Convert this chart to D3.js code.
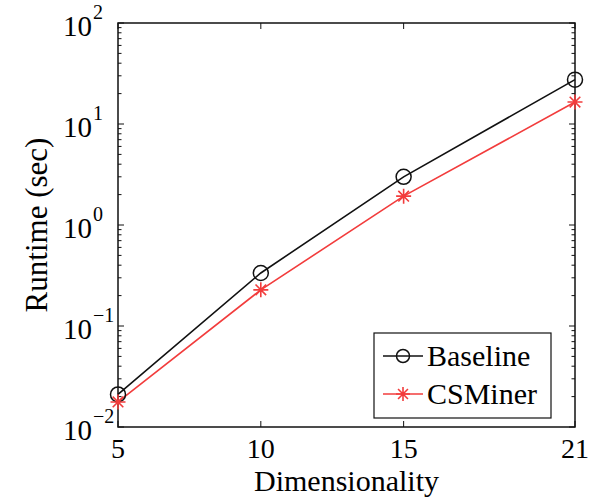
<!DOCTYPE html>
<html>
<head>
<meta charset="utf-8">
<script src="https://cdn.jsdelivr.net/npm/d3@7"></script>
<style>
  html, body { margin: 0; padding: 0; background: #fff; }
  svg { display: block; }
  text { font-family: "Liberation Serif", "Times New Roman", serif; fill: #000; }
</style>
</head>
<body>
<svg id="chart" width="603" height="497"></svg>
<script>
// Runtime vs. dimensionality for the two methods
const dims = [5, 10, 15, 21];
const baselineRuntime = [0.021, 0.335, 3.0, 27.5];
const csminerRuntime = [0.0177, 0.228, 1.93, 16.5];
const xTickValues = [5, 10, 15, 21];
const yTickExponents = [-2, -1, 0, 1, 2];
const seriesNames = ["Baseline", "CSMiner"];

const svg = d3.select("#chart");
const plot = { left: 118, right: 575, top: 23, bottom: 427 };

const x = d3.scaleLinear().domain([5, 21]).range([plot.left, plot.right]);
const y = d3.scaleLog().domain([0.01, 100]).range([plot.bottom, plot.top]);

const black = "#111";
const red = "#f23c3c";

// Ticks (inside the frame, on all four sides)
const ticks = svg.append("g").attr("stroke", black).attr("stroke-width", 1);
const majorLen = 6, minorLen = 3.5;
yTickExponents.forEach(e => {
  const v = Math.pow(10, e);
  const yy = y(v);
  ticks.append("line").attr("x1", plot.left).attr("x2", plot.left + majorLen).attr("y1", yy).attr("y2", yy);
  ticks.append("line").attr("x1", plot.right).attr("x2", plot.right - majorLen).attr("y1", yy).attr("y2", yy);
  if (e < 2) {
    for (let m = 2; m <= 9; m++) {
      const ym = y(m * v);
      ticks.append("line").attr("x1", plot.left).attr("x2", plot.left + minorLen).attr("y1", ym).attr("y2", ym);
      ticks.append("line").attr("x1", plot.right).attr("x2", plot.right - minorLen).attr("y1", ym).attr("y2", ym);
    }
  }
});
xTickValues.forEach(t => {
  const xx = x(t);
  ticks.append("line").attr("x1", xx).attr("x2", xx).attr("y1", plot.bottom).attr("y2", plot.bottom - majorLen);
  ticks.append("line").attr("x1", xx).attr("x2", xx).attr("y1", plot.top).attr("y2", plot.top + majorLen);
});

// Frame
svg.append("rect")
  .attr("x", plot.left).attr("y", plot.top)
  .attr("width", plot.right - plot.left).attr("height", plot.bottom - plot.top)
  .attr("fill", "none").attr("stroke", black).attr("stroke-width", 1.5);

// Tick labels
const tickFont = 29;
svg.append("g").selectAll("text").data(xTickValues).join("text")
  .attr("x", d => x(d)).attr("y", plot.bottom + 31)
  .attr("text-anchor", "middle").attr("font-size", 28)
  .text(d => d);

const yLab = svg.append("g");
yTickExponents.forEach(e => {
  const yy = y(Math.pow(10, e));
  yLab.append("text").attr("x", 92).attr("y", yy + 13)
    .attr("text-anchor", "end").attr("font-size", tickFont).text("10");
  yLab.append("text").attr("x", 93).attr("y", yy - 4)
    .attr("text-anchor", "start").attr("font-size", 20)
    .text(e < 0 ? "\u2212" + Math.abs(e) : String(e));
});

// Axis titles
svg.append("text")
  .attr("x", (plot.left + plot.right) / 2).attr("y", 491)
  .attr("text-anchor", "middle").attr("font-size", 30)
  .text("Dimensionality");
svg.append("text")
  .attr("transform", `translate(47,${(plot.top + plot.bottom) / 2}) rotate(-90)`)
  .attr("text-anchor", "middle").attr("font-size", 31)
  .text("Runtime (sec)");

// Series
const line = d3.line().x(d => x(d[0])).y(d => y(d[1]));
const baseData = dims.map((d, i) => [d, baselineRuntime[i]]);
const csData = dims.map((d, i) => [d, csminerRuntime[i]]);

function starPath(r) {
  const a = r * Math.SQRT1_2;
  return `M${-r},0L${r},0M0,${-r}L0,${r}M${-a},${-a}L${a},${a}M${-a},${a}L${a},${-a}`;
}

svg.append("path").datum(baseData).attr("d", line)
  .attr("fill", "none").attr("stroke", black).attr("stroke-width", 1.6);
svg.append("path").datum(csData).attr("d", line)
  .attr("fill", "none").attr("stroke", red).attr("stroke-width", 1.6);

svg.append("g").selectAll("circle").data(baseData).join("circle")
  .attr("cx", d => x(d[0])).attr("cy", d => y(d[1])).attr("r", 7.5)
  .attr("fill", "none").attr("stroke", black).attr("stroke-width", 1.5);
svg.append("g").selectAll("path").data(csData).join("path")
  .attr("transform", d => `translate(${x(d[0])},${y(d[1])})`)
  .attr("d", starPath(7.5))
  .attr("fill", "none").attr("stroke", red).attr("stroke-width", 1.6);

// Legend
const legend = svg.append("g");
legend.append("rect").attr("x", 374).attr("y", 333).attr("width", 177).attr("height", 85)
  .attr("fill", "#fff").attr("stroke", black).attr("stroke-width", 1.2);
const rows = [
  { name: seriesNames[0], color: black, marker: "circle", y: 356 },
  { name: seriesNames[1], color: red, marker: "star", y: 394 }
];
rows.forEach(r => {
  legend.append("line").attr("x1", 383).attr("x2", 423).attr("y1", r.y).attr("y2", r.y)
    .attr("stroke", r.color).attr("stroke-width", 1.6);
  if (r.marker === "circle") {
    legend.append("circle").attr("cx", 403).attr("cy", r.y).attr("r", 6.5)
      .attr("fill", "none").attr("stroke", r.color).attr("stroke-width", 1.5);
  } else {
    legend.append("path").attr("transform", `translate(403,${r.y})`).attr("d", starPath(7))
      .attr("fill", "none").attr("stroke", r.color).attr("stroke-width", 1.6);
  }
  legend.append("text").attr("x", 427).attr("y", r.y + 10)
    .attr("font-size", 30).text(r.name);
});
</script>
</body>
</html>
